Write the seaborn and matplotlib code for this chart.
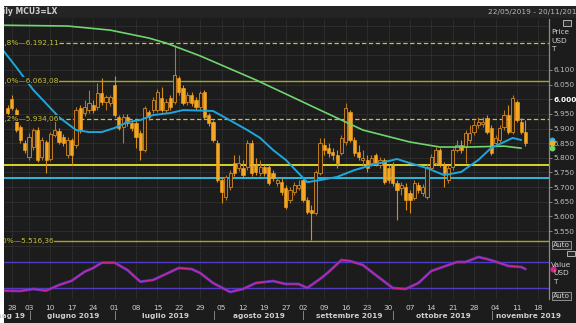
import numpy as np
import pandas as pd
import matplotlib
matplotlib.use("Agg")
import matplotlib.pyplot as plt
import matplotlib.transforms as mtransforms
from matplotlib.patches import Rectangle
import seaborn as sns

# ---------------- data ----------------
lme_holidays = ["2019-05-27", "2019-08-26"]
first_candle = "2019-05-24"

opens = [5970, 6001, 5963, 5905, 5851, 5803, 5837, 5895, 5803, 5854,
         5796, 5878, 5892, 5871, 5810, 5861, 5844, 5970, 5953, 5963,
         5980, 5974, 6021, 5991, 5987, 6049, 5939, 5905, 5939, 5919,
         5919, 5885, 5827, 5956, 5963, 5963, 6004, 5963, 6004, 5991,
         6073, 6038, 5991, 6014, 5997, 5974, 6025, 5946, 5922, 5851,
         5724, 5666, 5700, 5782, 5765, 5765, 5769, 5851, 5775, 5748,
         5769, 5769, 5748, 5714, 5717, 5697, 5656, 5683, 5697, 5724,
         5656, 5622, 5612, 5748, 5844, 5834, 5820, 5810, 5816, 5854,
         5956, 5861, 5820, 5793, 5793, 5782, 5810, 5775, 5793, 5765,
         5775, 5714, 5697, 5700, 5680, 5663, 5707, 5680, 5666, 5765,
         5782, 5827, 5775, 5724, 5769, 5827, 5844, 5837, 5861, 5888,
         5912, 5916, 5936, 5902, 5851, 5861, 5905, 5946, 5888, 5991,
         5922, 5888]
closes = [5953, 5970, 5895, 5861, 5827, 5871, 5895, 5793, 5861, 5793,
          5881, 5895, 5854, 5851, 5861, 5810, 5963, 5895, 5974, 5987,
          5963, 6021, 5991, 6008, 6008, 5946, 5902, 5939, 5919, 5902,
          5871, 5827, 5970, 5939, 5997, 6025, 5963, 5991, 5974, 6083,
          6025, 5987, 6014, 5987, 5974, 6021, 5939, 5919, 5861, 5724,
          5683, 5735, 5748, 5748, 5782, 5741, 5851, 5748, 5752, 5769,
          5748, 5714, 5731, 5724, 5683, 5632, 5690, 5707, 5707, 5656,
          5615, 5612, 5752, 5851, 5827, 5816, 5810, 5782, 5868, 5970,
          5861, 5816, 5803, 5799, 5765, 5799, 5782, 5793, 5717, 5724,
          5714, 5690, 5707, 5656, 5656, 5714, 5690, 5700, 5769, 5803,
          5827, 5775, 5748, 5765, 5827, 5844, 5827, 5885, 5885, 5912,
          5922, 5922, 5888, 5816, 5868, 5902, 5946, 5888, 6004, 5929,
          5888, 5851]
highs = [5980, 6014, 5970, 5912, 5861, 5885, 5902, 5905, 5871, 5861,
         5888, 5956, 5902, 5881, 5871, 5868, 5974, 5980, 5997, 6032,
         5997, 6055, 6073, 6014, 6014, 6079, 5946, 5950, 5950, 5929,
         5926, 5895, 5977, 5963, 6008, 6035, 6042, 6001, 6014, 6185,
         6079, 6049, 6025, 6025, 6008, 6028, 6032, 5953, 5929, 5861,
         5731, 5741, 5758, 5810, 5810, 5793, 5861, 5861, 5799, 5793,
         5775, 5775, 5758, 5735, 5731, 5707, 5700, 5717, 5724, 5731,
         5666, 5639, 5758, 5868, 5868, 5851, 5834, 5827, 5878, 5987,
         5963, 5871, 5844, 5827, 5810, 5810, 5816, 5803, 5799, 5775,
         5786, 5724, 5717, 5714, 5690, 5724, 5717, 5711, 5779, 5813,
         5837, 5834, 5786, 5775, 5834, 5861, 5861, 5895, 5912, 5929,
         5939, 5939, 5946, 5912, 5878, 5912, 5963, 5980, 6014, 5997,
         5936, 5929]
lows = [5943, 5963, 5888, 5851, 5816, 5793, 5827, 5786, 5793, 5748,
        5789, 5871, 5847, 5840, 5799, 5775, 5834, 5885, 5943, 5953,
        5953, 5963, 5980, 5963, 5977, 5939, 5895, 5851, 5909, 5892,
        5834, 5793, 5820, 5929, 5953, 5956, 5956, 5953, 5963, 5984,
        6014, 5980, 5980, 5977, 5963, 5963, 5933, 5909, 5854, 5717,
        5646, 5656, 5690, 5738, 5755, 5731, 5758, 5738, 5741, 5738,
        5738, 5707, 5721, 5704, 5673, 5625, 5646, 5673, 5690, 5649,
        5608, 5519, 5605, 5741, 5810, 5803, 5793, 5765, 5810, 5844,
        5854, 5806, 5793, 5775, 5752, 5772, 5772, 5765, 5711, 5714,
        5704, 5588, 5673, 5622, 5612, 5656, 5680, 5670, 5660, 5758,
        5775, 5769, 5700, 5714, 5758, 5820, 5816, 5782, 5851, 5878,
        5902, 5905, 5881, 5810, 5840, 5854, 5895, 5881, 5881, 5922,
        5881, 5840]

# moving averages (trading-session number, value)
ma_slow_session = [0, 16, 26, 35, 39, 47, 60, 66, 74, 85, 96, 103, 110, 118, 122]
ma_slow = [6253, 6250, 6236, 6209, 6192, 6148, 6066, 6025, 5970, 5895, 5854, 5837, 5837, 5840, 5833]
ma_fast_session = [0, 4, 8, 12, 14, 18, 21, 24, 27, 30, 33, 36, 40, 43, 50, 53, 58, 61, 64, 67,
                   72, 75, 79, 83, 87, 93, 96, 100, 104, 108, 112, 115, 118, 120, 122]
ma_fast = [6185, 6110, 6032, 5970, 5939, 5895, 5888, 5888, 5902, 5922, 5929, 5946, 5953, 5963, 5960,
           5936, 5895, 5868, 5827, 5793, 5717, 5724, 5735, 5758, 5775, 5796, 5782, 5765, 5741, 5752,
           5793, 5834, 5854, 5868, 5861]

# oscillator (lower panel)
osc_session = [1, 5, 8, 11, 14, 17, 20, 22, 24, 27, 30, 33, 36, 39, 42, 45, 47, 50, 54, 57,
               60, 64, 67, 70, 72, 75, 77, 80, 82, 85, 88, 92, 95, 98, 101, 105, 107, 109, 112, 114,
               117, 119, 122, 123]
osc_values = [13.8, 13.1, 17.7, 13.8, 26.9, 36.8, 57.6, 66.2, 78.4, 78.4,
              61.5, 34.5, 38.5, 52.3, 66.2, 63.8, 54.6, 31.5, 10.8, 17.7,
              31.5, 36.1, 29.2, 29.2, 20.0, 40.8, 56.9, 84.6, 82.3, 73.1,
              50.0, 20.0, 17.7, 31.5, 59.2, 73.1, 80.0, 80.0, 91.5, 86.9,
              77.7, 70.8, 68.5, 63.8]
osc_bands = [80, 20]

fib_levels = [6192.11, 6063.08, 5934.06, 5516.36]
fib_labels = ["61,8%\u20146.192,11", "50,0%\u20146.063,08", "38,2%\u20145.934,06", "0,0%\u20145.516,36"]
fib_dashed = [True, False, True, False]
support_yellow = 5775
support_cyan = 5730

price_ticks = [5550, 5600, 5650, 5700, 5750, 5800, 5850, 5900, 5950, 6000, 6050, 6100]
grid_prices = [5500, 5550, 5600, 5650, 5700, 5750, 5800, 5850, 5900, 5950, 6000, 6050, 6100, 6150, 6200, 6250]

week_tick_dates = ["2019-05-28", "2019-06-03", "2019-06-10", "2019-06-17", "2019-06-24", "2019-07-01",
                   "2019-07-08", "2019-07-15", "2019-07-22", "2019-07-29", "2019-08-05", "2019-08-12",
                   "2019-08-19", "2019-08-27", "2019-09-02", "2019-09-09", "2019-09-16", "2019-09-23",
                   "2019-09-30", "2019-10-07", "2019-10-14", "2019-10-21", "2019-10-28", "2019-11-04",
                   "2019-11-11", "2019-11-18"]
week_tick_labels = ["28", "03", "10", "17", "24", "01", "08", "15", "22", "29", "05", "12", "19",
                    "27", "02", "09", "16", "23", "30", "07", "14", "21", "28", "04", "11", "18"]
month_names = ["mag 19", "giugno 2019", "luglio 2019", "agosto 2019", "settembre 2019",
               "ottobre 2019", "novembre 2019"]
month_starts = ["2019-05-22", "2019-06-03", "2019-07-01", "2019-08-01", "2019-09-02",
                "2019-10-01", "2019-11-01"]

title_text = "Daily MCU3=LX"
range_text = "22/05/2019 - 20/11/2019 (Local)"

# ---------------- calendar ----------------
sessions = [d.strftime("%Y-%m-%d") for d in pd.bdate_range("2019-05-22", "2019-11-20")
            if d.strftime("%Y-%m-%d") not in lme_holidays]
sidx = {d: i for i, d in enumerate(sessions)}
n_sessions = len(sessions)

# ---------------- figure ----------------
sns.set_theme(style="dark")
plt.rcParams["font.family"] = ["DejaVu Sans"]

W, H = 576, 323
BG = "#1c1c1c"
GRID = "#2f2f2f"
TXT = "#cfcfcf"


def fx(px):
    return px / W


def fy(py):
    return 1 - py / H


fig = plt.figure(figsize=(W / 100, H / 100), dpi=100, facecolor="white")
fig.patches.append(Rectangle((fx(4), 0), 1 - fx(4), fy(6), transform=fig.transFigure,
                             facecolor=BG, edgecolor="none", zorder=-10))

# title bar
axt = fig.add_axes([fx(4), fy(18), 1 - fx(4), fy(6) - fy(18)])
axt.set_facecolor("#242424")
axt.set_xticks([]); axt.set_yticks([])
for s in axt.spines.values():
    s.set_visible(False)
tt = mtransforms.offset_copy(axt.transAxes, fig=fig, x=-13, y=0, units="dots")
axt.text(0, 0.5, title_text, transform=tt, fontsize=5.5, color=TXT, fontweight="bold",
         va="center", ha="left", clip_on=True)
axt.text(fx(488 - 4) / (1 - fx(4)), 0.5, range_text, transform=axt.transAxes,
         fontsize=5.3, color="#b8b8b8", va="center", ha="left", clip_on=True)

x0, x1 = 4, 549
ax = fig.add_axes([fx(x0), fy(250), fx(x1) - fx(x0), fy(19) - fy(250)])
ax2 = fig.add_axes([fx(x0), fy(299), fx(x1) - fx(x0), fy(251) - fy(299)], sharex=ax)
for a in (ax, ax2):
    a.set_facecolor(BG)
    for k, s in a.spines.items():
        s.set_visible(k == "right")
    a.spines["right"].set_color("#8a8a8a")
    a.spines["right"].set_linewidth(0.9)

xlim = (1.16, 128.5)
ax.set_xlim(*xlim)
ax.set_ylim(5485.4, 6274.0)
ax2.set_ylim(-5.4, 105.4)

week_pos = [sidx[d] for d in week_tick_dates]
ax2.set_xticks(week_pos)
ax2.set_xticklabels(week_tick_labels)
for p in week_pos:
    ax.axvline(p, color=GRID, lw=0.6, zorder=0.5)
    ax2.axvline(p, color=GRID, lw=0.6, zorder=0.5)
for gp in grid_prices:
    ax.axhline(gp, color=GRID, lw=0.6, zorder=0.5)
ax.tick_params(axis="x", labelbottom=False, length=0)
ax2.tick_params(axis="x", length=0, labelsize=5.3, labelcolor=TXT, pad=4)

ax.yaxis.tick_right()
ax.set_yticks(price_ticks)
ax.set_yticklabels([f"{v:,.0f}".replace(",", ".") for v in price_ticks])
ax.tick_params(axis="y", right=True, length=2.5, width=0.6, color="#9a9a9a",
               labelsize=5.3, labelcolor="#bdbdbd", pad=1)
for lab in ax.get_yticklabels():
    if lab.get_text() == "6.000":
        lab.set_color("white")
        lab.set_fontweight("bold")
ax2.set_yticks([])
ax.grid(False); ax2.grid(False)

# fib and support levels
for lvl, lab, dashed in zip(fib_levels, fib_labels, fib_dashed):
    ax.axhline(lvl, color="#c9c23a" if dashed else "#a9a626", lw=0.9 if dashed else 1.0,
               ls=(0, (3.5, 2)) if dashed else "-", zorder=2)
    t = mtransforms.offset_copy(ax.get_yaxis_transform(), fig=fig, x=-9, y=0, units="dots")
    ax.text(0, lvl, lab, transform=t, fontsize=5.3, color="#c9c23a", va="center", ha="left",
            clip_on=True, zorder=6, bbox=dict(facecolor=BG, edgecolor="none", pad=0.2))
ax.axhline(support_yellow, color="#e6e22e", lw=1.3, zorder=2)
ax.axhline(support_cyan, color="#2cc6e6", lw=1.3, zorder=2)

# candles
start = sidx[first_candle]
cx = np.array([sidx[d] for d in sessions[start:start + len(opens)]])
o = np.array(opens, float); c = np.array(closes, float)
h = np.array(highs, float); l = np.array(lows, float)
up = c >= o
ax.vlines(cx[up], l[up], h[up], color="#b8741e", lw=0.8, zorder=3)
ax.vlines(cx[~up], l[~up], h[~up], color="#d98c18", lw=0.8, zorder=3)
ax.bar(cx[up], (c - o)[up], bottom=o[up], width=0.75, facecolor="#262019",
       edgecolor="#c27c22", linewidth=0.7, zorder=4)
ax.bar(cx[~up], (o - c)[~up], bottom=c[~up], width=0.75, facecolor="#f5a623",
       edgecolor="#f5a623", linewidth=0.4, zorder=4)

# moving averages
sns.lineplot(x=ma_slow_session, y=ma_slow, ax=ax, color="#6fd66f", linewidth=1.2,
             estimator=None, sort=True, zorder=5)
sns.lineplot(x=ma_fast_session, y=ma_fast, ax=ax, color="#1fa6dc", linewidth=1.4,
             estimator=None, sort=True, zorder=5)
ax.set_xlabel(""); ax.set_ylabel("")

# last value markers on price scale
mk = mtransforms.blended_transform_factory(ax.transAxes, ax.transData)
ax.plot([1.006], [ma_fast[-1]], "o", ms=3.2, color="#2cb4e8", transform=mk, clip_on=False, zorder=7)
ax.plot([1.006], [closes[-1]], "o", ms=3.2, color="#f0b020", transform=mk, clip_on=False, zorder=7)
ax.plot([1.006], [ma_slow[-1]], "o", ms=3.2, color="#6fd66f", transform=mk, clip_on=False, zorder=7)

# oscillator panel
for b in osc_bands:
    ax2.axhline(b, color="#4c3cc8", lw=1.0, zorder=2)
sns.lineplot(x=osc_session, y=osc_values, ax=ax2, color="#5a34c8", linewidth=2.0,
             estimator=None, zorder=3)
sns.lineplot(x=osc_session, y=osc_values, ax=ax2, color="#d0268e", linewidth=0.9,
             estimator=None, zorder=4)
ax2.set_xlabel(""); ax2.set_ylabel("")
mk2 = mtransforms.blended_transform_factory(ax2.transAxes, ax2.transData)
ax2.plot([1.008], [osc_values[-1]], "o", ms=3.4, color="#e0208c", transform=mk2, clip_on=False, zorder=7)

# month row
bt = mtransforms.blended_transform_factory(ax2.transData, fig.transFigure)
mpos = [sidx[d] for d in month_starts] + [n_sessions - 1]
for i, name in enumerate(month_names):
    a_, b_ = mpos[i], mpos[i + 1]
    if i == 0:
        ax2.text(b_ - 0.9, fy(316), name, transform=bt, fontsize=5.3, color=TXT,
                 fontweight="bold", ha="right", va="center")
    elif i == len(month_names) - 1:
        ax2.text(a_ + 1.0, fy(316), name, transform=bt, fontsize=5.3, color=TXT,
                 fontweight="bold", ha="left", va="center")
    else:
        ax2.text((a_ + b_) / 2 + 0.3, fy(316), name, transform=bt, fontsize=5.3, color=TXT,
                 fontweight="bold", ha="center", va="center")
    if i > 0:
        ax2.text(mpos[i] + 0.2, fy(316), "|", transform=bt, fontsize=5.5, color="#bdbdbd",
                 ha="center", va="center")

# right column widgets
fig.text(fx(551), fy(32), "Price", fontsize=5.3, color=TXT, ha="left", va="center")
fig.text(fx(551), fy(41), "USD", fontsize=5.3, color=TXT, ha="left", va="center")
fig.text(fx(551), fy(49), "T", fontsize=5.3, color=TXT, ha="left", va="center")
fig.patches.append(Rectangle((fx(563), fy(26)), fx(8), fy(0) - fy(6), transform=fig.transFigure,
                             facecolor="#2a2a2a", edgecolor="#c8c8c8", lw=0.6, zorder=3))
fig.patches.append(Rectangle((fx(567), fy(256)), fx(8), fy(0) - fy(5), transform=fig.transFigure,
                             facecolor="#2a2a2a", edgecolor="#c8c8c8", lw=0.6, zorder=3))
fig.text(fx(551), fy(265), "Value", fontsize=5.3, color=TXT, ha="left", va="center")
fig.text(fx(553), fy(273), "USD", fontsize=5.3, color=TXT, ha="left", va="center")
fig.text(fx(553), fy(282), "T", fontsize=5.3, color=TXT, ha="left", va="center")
for ybox in (245, 296):
    fig.text(fx(553), fy(ybox), "Auto", fontsize=5.3, color=TXT, ha="left", va="center",
             bbox=dict(facecolor="#262626", edgecolor="#bdbdbd", lw=0.5, pad=0.8))

fig.savefig("out.png", dpi=100, facecolor=fig.get_facecolor())
